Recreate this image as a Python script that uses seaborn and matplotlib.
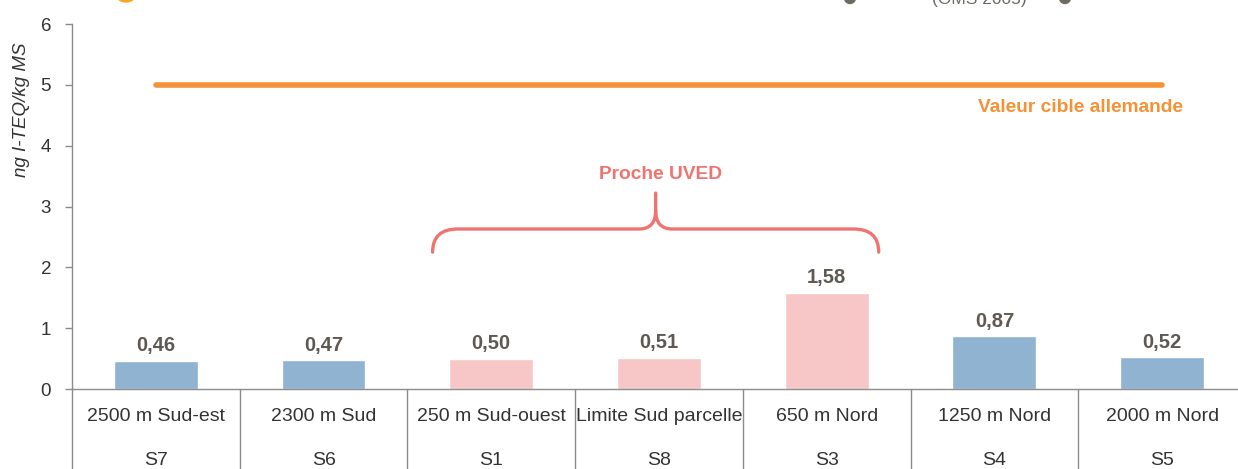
import matplotlib
matplotlib.use("Agg")
import matplotlib.pyplot as plt
from matplotlib.path import Path
from matplotlib.patches import PathPatch, Ellipse
import seaborn as sns
import pandas as pd

# ---- data ----
sites = ["2500 m Sud-est", "2300 m Sud", "250 m Sud-ouest", "Limite Sud parcelle",
         "650 m Nord", "1250 m Nord", "2000 m Nord"]
codes = ["S7", "S6", "S1", "S8", "S3", "S4", "S5"]
values = [0.46, 0.47, 0.50, 0.51, 1.58, 0.87, 0.52]
zone = ["Loin", "Loin", "Proche", "Proche", "Proche", "Loin", "Loin"]
target_value = 5
target_label = "Valeur cible allemande"
near_label = "Proche UVED"
y_label = "ng I-TEQ/kg MS"
y_ticks = [0, 1, 2, 3, 4, 5, 6]
top_note = "(OMS 2005)"

df = pd.DataFrame({"site": sites, "code": codes, "value": values, "zone": zone})

# ---- style ----
sns.set_theme(style="white")
plt.rcParams["font.family"] = ["Liberation Sans", "DejaVu Sans"]

BLUE = "#8FB3D1"
PINK = "#F7C6C6"
ORANGE = "#F39237"
RED = "#EF7470"
VAL_C = "#5E5A53"
TXT_C = "#333333"
GRID_C = "#8C8C8C"

W, H = 1238, 469
fig = plt.figure(figsize=(W / 100, H / 100), dpi=100)
left_px, right_px, top_px, bot_px = 72, 1246, 24, 389
ax_h = bot_px - top_px
ax = fig.add_axes([left_px / W, (H - bot_px) / H, (right_px - left_px) / W, ax_h / H])

sns.barplot(data=df, x="site", y="value", hue="zone", palette={"Loin": BLUE, "Proche": PINK},
            dodge=False, width=0.5, legend=False, ax=ax, saturation=1)

for cont in ax.containers:
    ax.bar_label(cont, labels=[f"{v:.2f}".replace(".", ",") if v == v else "" for v in cont.datavalues],
                 padding=4, fontsize=14.5, fontweight="bold", color=VAL_C)

ax.set_xlim(-0.5, len(sites) - 0.5)
ax.set_ylim(0, 6)
ax.set_yticks(y_ticks)
ax.set_yticklabels([str(t) for t in y_ticks], fontsize=13.5, color=TXT_C)
ax.tick_params(axis="y", length=5, width=1, color=GRID_C, pad=10, left=True)
ax.set_xticks([])
ax.set_xlabel("")
ax.set_ylabel(y_label, fontsize=13.5, fontstyle="italic", color=TXT_C)
ax.yaxis.set_label_coords(-(left_px - 22) / (right_px - left_px), (bot_px - 110) / ax_h)
ax.yaxis.label.set_va("center")
for s in ["top", "right"]:
    ax.spines[s].set_visible(False)
for s in ["left", "bottom"]:
    ax.spines[s].set_color(GRID_C)
    ax.spines[s].set_linewidth(1)

# category table below the axis
trans = ax.get_xaxis_transform()
sep_bottom = -(H - bot_px) / ax_h
for i in range(len(sites) + 1):
    ax.plot([i - 0.5, i - 0.5], [0, sep_bottom], transform=trans, color=GRID_C, lw=1, clip_on=False)
for i, (s, c) in enumerate(zip(sites, codes)):
    ax.text(i, -(416.5 - bot_px) / ax_h, s, transform=trans, ha="center", va="center",
            fontsize=14, color=TXT_C)
    ax.text(i, -(460 - bot_px) / ax_h, c, transform=trans, ha="center", va="center",
            fontsize=14, color=TXT_C)

# target line
ax.plot([0, len(sites) - 1], [target_value, target_value], color=ORANGE, lw=4,
        solid_capstyle="round", zorder=3)
ax.text(len(sites) - 1 + 0.125, target_value - 0.37, target_label, ha="right", va="center",
        fontsize=13.8, fontweight="bold", color=ORANGE)

# brace over the "proche" group
near_idx = [i for i, z in enumerate(zone) if z == "Proche"]
x0, x1 = min(near_idx) - 0.35, max(near_idx) + 0.31
xc = (x0 + x1) / 2
y_end, y_bar, y_tip = 2.25, 2.63, 3.22
rx = 0.15
rcx, rcy = 0.10, 0.30
verts = [(x0, y_end), (x0, y_bar), (x0 + rx, y_bar),
         (xc - rcx, y_bar), (xc, y_bar), (xc, y_bar + rcy),
         (xc, y_tip),
         (xc, y_bar + rcy), (xc, y_bar), (xc + rcx, y_bar),
         (x1 - rx, y_bar), (x1, y_bar), (x1, y_end)]
codes_p = [Path.MOVETO, Path.CURVE3, Path.CURVE3,
           Path.LINETO, Path.CURVE3, Path.CURVE3,
           Path.LINETO,
           Path.MOVETO, Path.CURVE3, Path.CURVE3,
           Path.LINETO, Path.CURVE3, Path.CURVE3]
ax.add_patch(PathPatch(Path(verts, codes_p), fill=False, edgecolor=RED, lw=2.4,
                       capstyle="round", clip_on=False))
ax.text(xc + 0.03, 3.52, near_label, ha="center", va="center", fontsize=13.8,
        fontweight="bold", color=RED)

# cropped header remnants at the very top (cut in the reference as well)
fig.text(979 / W, 1 - 4 / H, top_note, ha="center", va="baseline", fontsize=12.5, color="#6E6A64")
fig.patches.append(Ellipse((126 / W, 1 + 10 / H), 24 / W, 24 / H, transform=fig.transFigure,
                           color="#F5A623", clip_on=False))
for xd in (850, 1065):
    fig.patches.append(Ellipse((xd / W, 1 + 2 / H), 11 / W, 11 / H, transform=fig.transFigure,
                               color="#6E6A64", clip_on=False))

fig.savefig("out.png", dpi=100)
